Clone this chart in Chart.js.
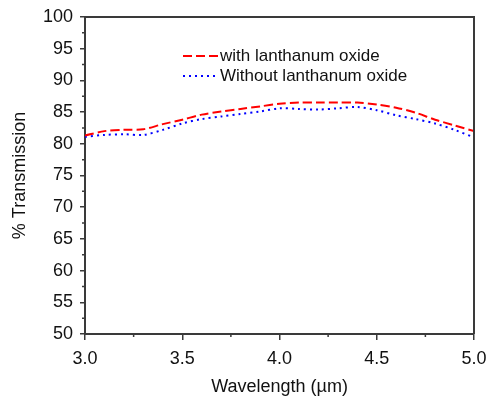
<!DOCTYPE html>
<html>
<head>
<meta charset="utf-8">
<script src="https://cdn.jsdelivr.net/npm/chart.js@4"></script>
<style>
html,body{margin:0;padding:0;background:#fff;}
#wrap{width:488px;height:403px;position:relative;}
</style>
</head>
<body>
<div id="wrap"><canvas id="c" width="488" height="403"></canvas></div>
<script>
const wavelengths = [3.0,3.1,3.2,3.3,3.4,3.5,3.6,3.7,3.8,3.9,4.0,4.1,4.2,4.3,4.4,4.5,4.6,4.7,4.8,4.9,5.0];
const withLanthanum = [81.3,82.0,82.2,82.3,83.1,83.8,84.6,85.1,85.5,85.9,86.3,86.5,86.5,86.5,86.5,86.2,85.7,84.9,83.8,82.9,82.0];
const withoutLanthanum = [81.1,81.4,81.5,81.4,82.2,83.2,83.9,84.3,84.7,85.1,85.6,85.5,85.4,85.6,85.8,85.3,84.5,83.9,83.2,82.2,81.0];
const seriesLabels = ["with lanthanum oxide","Without lanthanum oxide"];
const xMinorTicks = [3.25,3.75,4.25,4.75];
const yMinorTicks = [52.5,57.5,62.5,67.5,72.5,77.5,82.5,87.5,92.5,97.5];

const FONT = "'Liberation Sans', Arial, sans-serif";
const AXIS = '#3a3a3a';

const extras = {
  id: 'extras',
  afterDraw(chart) {
    const ctx = chart.ctx, a = chart.chartArea;
    const xs = chart.scales.x, ys = chart.scales.y;
    ctx.save();
    ctx.strokeStyle = AXIS; ctx.lineWidth = 2;
    ctx.beginPath();
    ctx.moveTo(a.left, a.top); ctx.lineTo(a.right, a.top); ctx.lineTo(a.right, a.bottom);
    ctx.stroke();
    ctx.lineWidth = 1.5;
    ctx.beginPath();
    yMinorTicks.forEach(v => { const y = ys.getPixelForValue(v); ctx.moveTo(a.left - 3, y); ctx.lineTo(a.left, y); });
    xMinorTicks.forEach(v => { const x = xs.getPixelForValue(v); ctx.moveTo(x, a.bottom); ctx.lineTo(x, a.bottom + 3); });
    ctx.stroke();
    const lx = 183, ly = [56, 76];
    chart.data.datasets.forEach((ds, i) => {
      ctx.strokeStyle = ds.borderColor; ctx.lineWidth = 2;
      ctx.setLineDash(ds.borderDash || []);
      ctx.beginPath(); ctx.moveTo(lx, ly[i]); ctx.lineTo(lx + 36, ly[i]); ctx.stroke();
      ctx.setLineDash([]);
      ctx.fillStyle = '#111'; ctx.font = '17px ' + FONT;
      ctx.textBaseline = 'middle'; ctx.textAlign = 'left';
      ctx.fillText(ds.label, lx + 37, ly[i]);
    });
    ctx.restore();
  }
};

new Chart(document.getElementById('c'), {
  type: 'line',
  data: {
    datasets: [
      { label: seriesLabels[0], data: wavelengths.map((x,i)=>({x, y: withLanthanum[i]})),
        borderColor: '#ff0000', borderWidth: 2, borderDash: [9,4], pointRadius: 0, tension: 0.3, fill: false },
      { label: seriesLabels[1], data: wavelengths.map((x,i)=>({x, y: withoutLanthanum[i]})),
        borderColor: '#0000ff', borderWidth: 2, borderDash: [2,4], pointRadius: 0, tension: 0.3, fill: false }
    ]
  },
  options: {
    responsive: false, animation: false,
    layout: { padding: { left: 0, top: 17, right: 14, bottom: 0 } },
    plugins: { legend: { display: false }, tooltip: { enabled: false } },
    scales: {
      x: {
        type: 'linear', min: 3, max: 5,
        afterFit: s => { s.height = 69; s.paddingLeft = 0; s.paddingRight = 0; },
        ticks: { stepSize: 0.5, color: '#111', font: { family: FONT, size: 18 }, padding: 8,
          callback: v => Number(v).toFixed(1), maxRotation: 0 },
        grid: { display: true, drawOnChartArea: false, drawTicks: true, tickLength: 6, color: AXIS, lineWidth: 1.5 },
        border: { display: true, color: AXIS, width: 2 },
        title: { display: true, text: 'Wavelength (\u00b5m)', color: '#111', font: { family: FONT, size: 18 }, padding: { top: 0, bottom: 5 } }
      },
      y: {
        min: 50, max: 100,
        afterFit: s => { s.width = 85; s.paddingTop = 0; s.paddingBottom = 0; },
        ticks: { stepSize: 5, color: '#111', font: { family: FONT, size: 18 }, padding: 7 },
        grid: { display: true, drawOnChartArea: false, drawTicks: true, tickLength: 5, color: AXIS, lineWidth: 1.5 },
        border: { display: true, color: AXIS, width: 2 },
        title: { display: true, text: '% Transmission', color: '#111', font: { family: FONT, size: 18 }, padding: { top: 9, bottom: 0 } }
      }
    }
  },
  plugins: [extras]
});
</script>
</body>
</html>
